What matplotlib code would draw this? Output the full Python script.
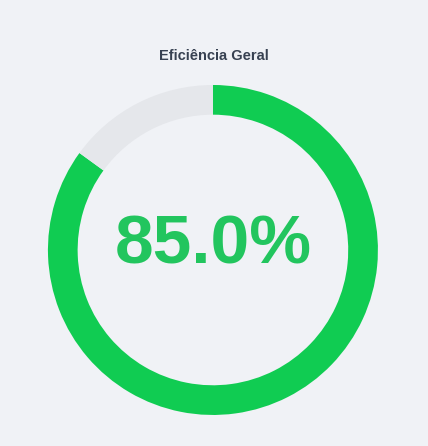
import matplotlib.pyplot as plt

title = "Eficiência Geral"
values = [85.0, 15.0]
colors = ["#10cc52", "#e5e7eb"]
bg = "#f0f2f6"

plt.rcParams["font.family"] = ["Liberation Sans", "DejaVu Sans"]
fig = plt.figure(figsize=(4.28, 4.46), dpi=100)
fig.patch.set_facecolor(bg)
ax = fig.add_axes([0.112, 0.0695, 0.771, 0.74])
ax.set_facecolor(bg)
ax.pie(values, colors=colors, startangle=90, counterclock=False,
       radius=1.0, wedgeprops=dict(width=0.18, edgecolor="none"))
ax.set_xlim(-1, 1)
ax.set_ylim(-1, 1)
ax.set_aspect("equal")
ax.axis("off")
ax.text(0, 0.03, f"{values[0]:.1f}%", ha="center", va="center",
        fontsize=50, fontweight="bold", color="#22c55e")
fig.text(0.5, 0.874, title, ha="center", va="center", fontsize=10.5,
         fontweight="bold", color="#374151")
fig.savefig("out.png", facecolor=bg)
